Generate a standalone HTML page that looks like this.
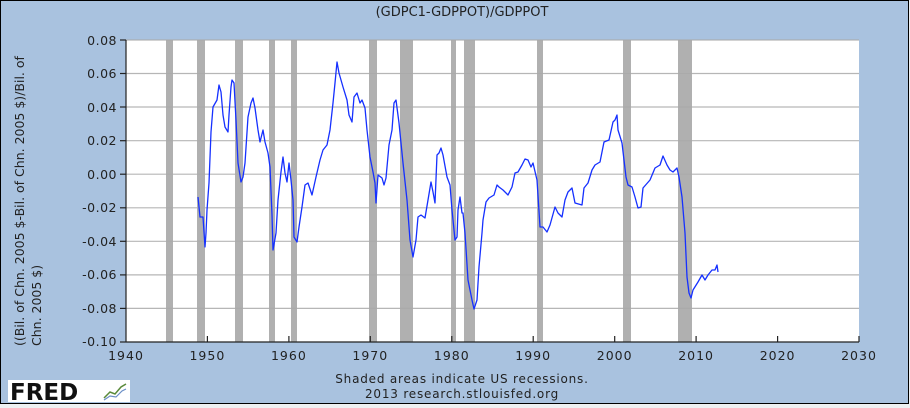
<!DOCTYPE html>
<html><head><meta charset="utf-8"><style>
html,body{margin:0;padding:0;background:#eef0f2;}
svg{display:block;}
text{font-family:"DejaVu Sans","Liberation Sans",sans-serif;fill:#222;}
</style></head><body>
<svg width="910" height="408" viewBox="0 0 910 408" xmlns="http://www.w3.org/2000/svg">
<rect x="0.5" y="0.5" width="908" height="403" fill="#a9c2df" stroke="#000" stroke-width="1"/>
<text x="462" y="16" font-size="13" text-anchor="middle">(GDPC1-GDPPOT)/GDPPOT</text>
<rect x="126" y="40" width="733" height="302" fill="#fff"/>
<g fill="#b0b0b0">
<rect x="166" y="40" width="7" height="302"/>
<rect x="197" y="40" width="8" height="302"/>
<rect x="235" y="40" width="8" height="302"/>
<rect x="269" y="40" width="6" height="302"/>
<rect x="291" y="40" width="6" height="302"/>
<rect x="369" y="40" width="8" height="302"/>
<rect x="400" y="40" width="13" height="302"/>
<rect x="451" y="40" width="5" height="302"/>
<rect x="464" y="40" width="11" height="302"/>
<rect x="537" y="40" width="6" height="302"/>
<rect x="623" y="40" width="8" height="302"/>
<rect x="678" y="40" width="14" height="302"/>
</g>
<g stroke="#aaa" stroke-width="1.2" opacity="0.85">
<line x1="126" x2="859" y1="40" y2="40"/><line x1="126" x2="859" y1="73.5" y2="73.5"/>
<line x1="126" x2="859" y1="107" y2="107"/><line x1="126" x2="859" y1="140.7" y2="140.7"/>
<line x1="126" x2="859" y1="174.2" y2="174.2"/><line x1="126" x2="859" y1="207.8" y2="207.8"/>
<line x1="126" x2="859" y1="241.3" y2="241.3"/><line x1="126" x2="859" y1="274.9" y2="274.9"/>
<line x1="126" x2="859" y1="308.4" y2="308.4"/>
</g>
<g stroke="#222" stroke-width="1.2">
<line x1="126" x2="126" y1="40" y2="342"/><line x1="126" x2="859" y1="342" y2="342"/>
<line x1="120" x2="126" y1="40" y2="40"/><line x1="120" x2="126" y1="73.5" y2="73.5"/>
<line x1="120" x2="126" y1="107" y2="107"/><line x1="120" x2="126" y1="140.7" y2="140.7"/>
<line x1="120" x2="126" y1="174.2" y2="174.2"/><line x1="120" x2="126" y1="207.8" y2="207.8"/>
<line x1="120" x2="126" y1="241.3" y2="241.3"/><line x1="120" x2="126" y1="274.9" y2="274.9"/>
<line x1="120" x2="126" y1="308.4" y2="308.4"/><line x1="120" x2="126" y1="342" y2="342"/>
<line x1="207.4" x2="207.4" y1="336" y2="342"/><line x1="288.9" x2="288.9" y1="336" y2="342"/>
<line x1="370.3" x2="370.3" y1="336" y2="342"/><line x1="451.8" x2="451.8" y1="336" y2="342"/>
<line x1="533.2" x2="533.2" y1="336" y2="342"/><line x1="614.7" x2="614.7" y1="336" y2="342"/>
<line x1="696.1" x2="696.1" y1="336" y2="342"/><line x1="777.6" x2="777.6" y1="336" y2="342"/>
<line x1="859" x2="859" y1="336" y2="342"/>
</g>
<g font-size="12.5" text-anchor="end" letter-spacing="0.5">
<text x="117" y="45">0.08</text><text x="117" y="78">0.06</text><text x="117" y="112">0.04</text>
<text x="117" y="145">0.02</text><text x="117" y="179">0.00</text><text x="117" y="212">-0.02</text>
<text x="117" y="246">-0.04</text><text x="117" y="279">-0.06</text><text x="117" y="313">-0.08</text>
<text x="117" y="346">-0.10</text>
</g>
<g font-size="12.5" text-anchor="middle" letter-spacing="1">
<text x="126" y="360">1940</text><text x="207.4" y="360">1950</text><text x="288.9" y="360">1960</text>
<text x="370.3" y="360">1970</text><text x="451.8" y="360">1980</text><text x="533.2" y="360">1990</text>
<text x="614.7" y="360">2000</text><text x="696.1" y="360">2010</text><text x="777.6" y="360">2020</text>
<text x="859" y="360">2030</text>
</g>
<g font-size="12.5" text-anchor="start">
<text transform="translate(24,346) rotate(-90)">((Bil. of Chn. 2005 $-Bil. of Chn. 2005 $)/Bil. of</text>
<text transform="translate(41,346) rotate(-90)">Chn. 2005 $)</text>
</g>
<g font-size="12" text-anchor="middle" letter-spacing="0.8">
<text x="462" y="383">Shaded areas indicate US recessions.</text>
<text x="462" y="398">2013 research.stlouisfed.org</text>
</g>
<rect x="8" y="380" width="122" height="22" fill="#fff"/>
<text x="10" y="400" font-family="'Liberation Sans',sans-serif" font-weight="bold" font-size="23" style="fill:#111">FRED</text>
<polyline points="104,398 110,392 115,394 121,387 126,384" fill="none" stroke="#5a8a3a" stroke-width="1.5"/>
<polyline points="104,400 110,396 116,397 122,391 126,389" fill="none" stroke="#6b8fc7" stroke-width="1.2"/>
<polyline fill="none" stroke="#1530ff" stroke-width="1.3" stroke-linejoin="round" points="198,197 200,217 203,217 205,247 206,233 207,210 209,183 211,132 213,107 217,100 219,85 221,92 223,115 225,127 228,132 229,115 231,87 232,80 234,83 236,120 238,163 241,182 243,177 245,163 248,117 251,103 253,98 255,108 258,130 260,142 263,130 265,142 268,153 270,167 272,215 273,250 276,233 278,200 281,172 283,157 285,173 287,182 289,163 291,180 293,200 294,237 297,242 299,227 302,207 305,185 308,183 312,195 316,177 320,160 323,150 327,145 330,130 333,103 335,83 337,62 339,73 343,87 347,100 349,115 352,122 354,97 357,93 360,103 362,100 365,108 367,130 370,157 373,172 375,183 376,203 378,175 382,178 384,185 386,178 389,145 392,130 394,103 396,100 399,123 403,163 407,200 410,240 413,257 416,240 418,217 421,215 425,218 428,200 431,182 433,192 435,203 437,155 439,153 441,148 443,155 447,177 450,185 452,210 455,240 457,237 458,210 460,197 462,213 463,213 465,233 468,280 472,300 474,309 477,300 479,267 482,233 483,220 486,202 489,198 494,195 497,185 499,187 503,190 508,195 512,187 515,173 518,172 522,165 525,159 528,160 531,167 533,163 537,180 540,227 543,227 547,232 550,225 555,207 558,213 562,217 565,200 568,192 572,188 575,203 582,205 584,188 588,183 592,170 595,165 600,162 604,142 609,140 613,122 615,120 617,115 618,130 622,143 626,177 628,185 632,187 635,197 638,208 641,207 643,188 650,180 655,168 660,165 663,156 667,165 670,170 673,172 677,168 679,177 682,197 685,233 687,277 689,293 691,298 693,290 698,282 702,275 705,280 708,275 712,270 715,270 717,265 718,272"/>
</svg>
</body></html>
